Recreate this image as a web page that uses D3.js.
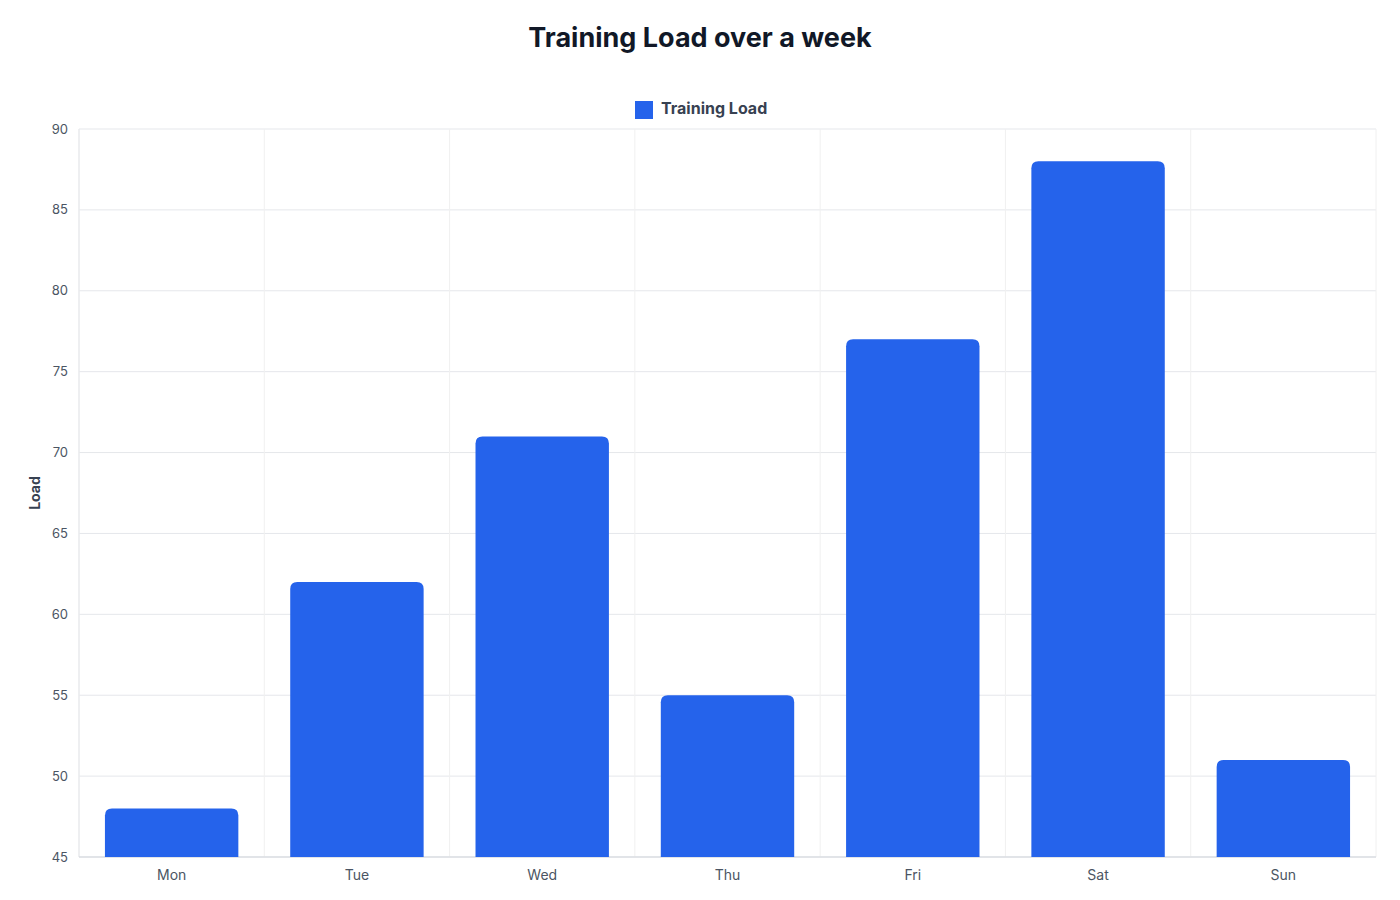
<!DOCTYPE html>
<html><head><meta charset="utf-8">
<script src="https://cdn.jsdelivr.net/npm/d3@7/dist/d3.min.js"></script>
<style>body{margin:0;background:#fff;font-family:Inter,"Noto Sans",sans-serif;}</style>
</head><body><svg id="c" width="1400" height="900"></svg>
<script>
const categories = ["Mon","Tue","Wed","Thu","Fri","Sat","Sun"];
const loadValues = [48,62,71,55,77,88,51];
const yTicks = [45,50,55,60,65,70,75,80,85,90];

const svg = d3.select("#c");
const L=79,R=1376,T=129,B=857;
const x = d3.scaleBand().domain(categories).range([L,R]).paddingInner(0).paddingOuter(0);
const y = d3.scaleLinear().domain([45,90]).range([B,T]);
const grid="#e5e7eb";

svg.append("text").attr("x",700).attr("y",47).attr("text-anchor","middle")
  .attr("font-size",27).attr("font-weight",700).attr("fill","#111827").text("Training Load over a week");

// legend
svg.append("rect").attr("x",635).attr("y",101).attr("width",18).attr("height",18).attr("fill","#2563eb");
svg.append("text").attr("x",661).attr("y",114).attr("font-size",16).attr("font-weight",700).attr("fill","#374151").text("Training Load");

// grid
svg.append("g").selectAll("line").data(yTicks).join("line")
  .attr("x1",L).attr("x2",R).attr("y1",d=>y(d)).attr("y2",d=>y(d)).attr("stroke",grid).attr("stroke-width",1);
const bounds = categories.map(c=>x(c)).concat([R]);
svg.append("g").selectAll("line").data(bounds).join("line")
  .attr("x1",d=>d).attr("x2",d=>d).attr("y1",T).attr("y2",B).attr("stroke","#f0f0f0");
svg.append("line").attr("x1",L).attr("x2",L).attr("y1",T).attr("y2",B).attr("stroke",grid);
svg.append("line").attr("x1",L).attr("x2",R).attr("y1",B).attr("y2",B).attr("stroke","#d1d5db");

// bars
const bw = x.bandwidth()*0.72, r=7;
svg.append("g").selectAll("path").data(categories).join("path")
  .attr("fill","#2563eb")
  .attr("d",(c,i)=>{
    const x0=x(c)+(x.bandwidth()-bw)/2, x1=x0+bw, y0=y(loadValues[i]), yb=y(45);
    return `M${x0},${yb}V${y0+r}Q${x0},${y0} ${x0+r},${y0}H${x1-r}Q${x1},${y0} ${x1},${y0+r}V${yb}Z`;
  });

// axes labels
svg.append("g").selectAll("text").data(yTicks).join("text")
  .attr("x",68).attr("y",d=>y(d)+4.5).attr("text-anchor","end").attr("font-size",13).attr("fill","#4b5563").text(d=>d);
svg.append("g").selectAll("text").data(categories).join("text")
  .attr("x",c=>x(c)+x.bandwidth()/2).attr("y",880).attr("text-anchor","middle").attr("font-size",14).attr("fill","#4b5563").text(c=>c);
svg.append("text").attr("transform","translate(40,493) rotate(-90)").attr("text-anchor","middle")
  .attr("font-size",14).attr("font-weight",700).attr("fill","#374151").text("Load");
</script></body></html>
